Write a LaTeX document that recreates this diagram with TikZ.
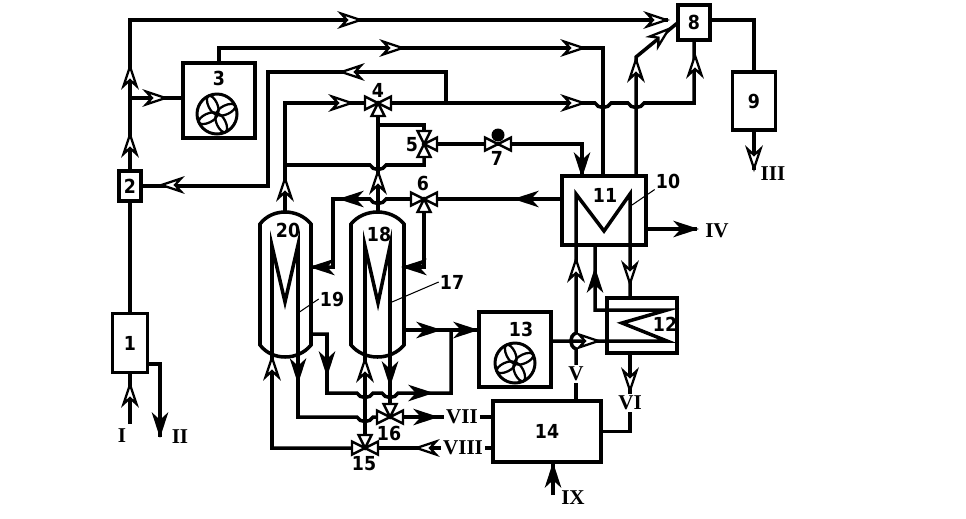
\documentclass[tikz,border=0pt]{standalone}
\usepackage{fontspec}
\newfontfamily\numfont{DejaVu Sans Condensed Bold}
\newfontfamily\romfont{Liberation Serif Bold}
\newcommand{\hopx}[2]{-- (#1-8,#2) .. controls (#1-5,#2+6) and (#1+5,#2+6) .. (#1+8,#2)}
\newcommand{\hopy}[2]{-- (#1,#2+8) .. controls (#1-7,#2+5) and (#1-7,#2-5) .. (#1,#2-8)}
\tikzset{
	pipe/.style={line width=2pt,line join=miter},
	leader/.style={line width=0.6pt},
	unit/.style={draw,line width=2pt,inner sep=0pt,outer sep=0pt,font=\numfont\fontsize{11}{12}\selectfont},
	tag/.style={inner sep=0.5pt,font=\numfont\fontsize{11}{12}\selectfont},
	rom/.style={inner sep=1pt,font=\romfont\fontsize{12}{13}\selectfont},
	openhead/.pic={\draw[line width=1.3pt,fill=white,line join=miter] (-1.5,0)--(-21,-6.5)--(-15,0)--(-21,6.5)--cycle;},
	solidhead/.pic={\draw[line width=1pt,fill=black,line join=miter] (-1,0)--(-21,-6.5)--(-15,0)--(-21,6.5)--cycle;},
	valve/.pic={\draw[line width=1.4pt,fill=white] (0,0)--(13,-6.5)--(13,6.5)--cycle (0,0)--(-13,-6.5)--(-13,6.5)--cycle (0,0)--(-6.5,13)--(6.5,13)--cycle;},
	fan/.pic={
		\draw[line width=1.7pt] (0,0) circle (20);
		\draw[line width=1.3pt,rotate=25] (10,0) ellipse (10 and 4.5);
		\draw[line width=1.3pt,rotate=115] (10,0) ellipse (10 and 4.5);
		\draw[line width=1.3pt,rotate=205] (10,0) ellipse (10 and 4.5);
		\draw[line width=1.3pt,rotate=295] (10,0) ellipse (10 and 4.5);
	}
}
\begin{document}
\begin{tikzpicture}[x=0.02cm,y=-0.02cm]
	\useasboundingbox (0,0) rectangle (966,518);
	\node[unit,minimum width=0.7cm,minimum height=1.18cm] (b1) at (130,343) {1};
	\node[unit,minimum width=0.44cm,minimum height=0.6cm] (b2) at (130,186) {2};
	\node[unit,minimum width=1.44cm,minimum height=1.5cm] (b3) at (219,100.5) {};
	\node[unit,minimum width=0.64cm,minimum height=0.7cm] (b8) at (694,22.5) {8};
	\node[unit,minimum width=0.86cm,minimum height=1.16cm] (b9) at (754,101) {9};
	\node[unit,minimum width=1.68cm,minimum height=1.38cm] (b10) at (604,210.5) {};
	\node[unit,minimum width=1.4cm,minimum height=1.1cm] (b12) at (642,325.5) {};
	\node[unit,minimum width=1.44cm,minimum height=1.5cm] (b13) at (515,349.5) {};
	\node[unit,minimum width=2.16cm,minimum height=1.22cm] (b14) at (547,431.5) {14};
	\node[tag] (l3) at (219,78) {3};
	\node[tag] (l4) at (378,90) {4};
	\node[tag] (l5) at (412,145) {5};
	\node[tag] (l6) at (423,183) {6};
	\node[tag] (l7) at (497,158) {7};
	\node[tag] (l10) at (668,181) {10};
	\node[tag] (l11) at (605,195) {11};
	\node[tag] (l12) at (665,324) {12};
	\node[tag] (l13) at (521,329) {13};
	\node[tag] (l15) at (364,464) {15};
	\node[tag] (l16) at (389,433) {16};
	\node[tag] (l17) at (452,282) {17};
	\node[tag] (l18) at (379,234) {18};
	\node[tag] (l19) at (332,299) {19};
	\node[tag] (l20) at (288,230) {20};
	\node[rom] (lI) at (122,436) {I};
	\node[rom] (lII) at (180,437) {II};
	\node[rom] (lIII) at (773,174) {III};
	\node[rom] (lIV) at (717,231) {IV};
	\node[rom] (lV) at (576,374) {V};
	\node[rom] (lVI) at (630,403) {VI};
	\node[rom] (lVII) at (462,417) {VII};
	\node[rom] (lVIII) at (463,448) {VIII};
	\node[rom] (lIX) at (573,498) {IX};
	\coordinate (v4) at (378,103);
	\coordinate (v5) at (424,144);
	\coordinate (v6) at (424,199);
	\coordinate (v7) at (498,144);
	\coordinate (v15) at (365,448);
	\coordinate (v16) at (390,417);
	\coordinate (t18) at (378,212);
	\coordinate (t20) at (285,212);
	\coordinate (r18) at (404,267);
	\coordinate (r20) at (311,267);
	\coordinate (o18) at (404,330);
	\coordinate (o20) at (311,334);
	\coordinate (cI) at (130,424);
	\coordinate (cII) at (160,437);
	\coordinate (cIII) at (754,170);
	\coordinate (cIV) at (697,229);
	\coordinate (cIX) at (553,495);
	\coordinate (c8) at (668,20);
	\coordinate (j1) at (130,98);
	\coordinate (j2) at (378,125);
	\coordinate (j3) at (285,165);
	\coordinate (j4) at (451,330);
	\coordinate (a1) at (603,48);
	\coordinate (a2) at (268,72);
	\coordinate (a3) at (446,103);
	\coordinate (a4) at (333,199);
	\coordinate (a5) at (582,144);
	\coordinate (a6) at (636,57);
	\coordinate (a7) at (630,194);
	\coordinate (a8) at (595,310);
	\coordinate (a9) at (667,341);
	\coordinate (a10) at (327,393);
	\coordinate (a11) at (272,246);
	\coordinate (a12) at (298,245);
	\coordinate (a13) at (160,364);
	\draw[pipe](260,224)..controls(272,208)and(298,208)..(311,224)--(311,345)..controls(298,361)and(272,361)..(260,345)--cycle;
	\draw[pipe](351,224)..controls(364,208)and(391,208)..(404,224)--(404,345)..controls(391,361)and(364,361)..(351,345)--cycle;
	\draw[pipe] (cI) -- (b1.south);
	\draw[pipe] (b1.north) -- (b2.south);
	\draw[pipe] (b1.east |- a13) -| (cII);
	\draw[pipe] (b2.north) |- (c8);
	\draw[pipe] (j1) -- (j1 -| b3.west);
	\draw[pipe] (b3.north) |- (a1) -- (a1 |- b10.north);
	\draw[pipe] (b2.east) -| (a2) -| (a3);
	\draw[pipe] (v4) \hopx{603}{103} \hopx{636}{103} -- (b8.south |- v4) -- (b8.south);
	\draw[pipe] (t20) |- (v4);
	\draw[pipe] (v4) -- (t18);
	\draw[pipe] (j2) -| (v5);
	\draw[pipe] (j3) \hopx{378}{165} -| (v5);
	\draw[pipe] (r20) -| (a4) \hopx{378}{199} -- (v6);
	\draw[pipe] (v6) |- (r18);
	\draw[pipe] (v6) -- (v6 -| b10.west);
	\draw[pipe] (v5) -- (a5) -- (a5 |- b10.north);
	\draw[pipe] (a6 |- b10.north) -- (a6) -- (b8.west);
	\draw[pipe] (lV |- b14.north) -- (lV.south);
	\draw[pipe] (lV.north) \hopy{576}{341} -- (576,194) -- (604,231) -- (a7) -- (a7 |- b12.north);
	\draw[pipe] (a7 |- b12.south) -- (lVI.north);
	\draw[pipe] (lVI.south) |- (b14.east);
	\draw[pipe] (a8 |- b10.south) -- (a8) -- (667,310) -- (622,323) -- (a9) -- (a9 -| b13.east);
	\draw[pipe] (o18) -- (o18 -| b13.west);
	\draw[pipe] (o20) -| (a10) \hopx{365}{393} \hopx{390}{393} -| (j4);
	\draw[pipe] (v15) -| (a11) -- (285,302) -- (a12) |- (348,417) \hopx{365}{417} -- (v16);
	\draw[pipe] (v15) -- (365,246) -- (378,303) -- (390,246) -- (v16);
	\draw[pipe] (v16) -- (lVII.west);
	\draw[pipe] (lVII.east) -- (lVII.east -| b14.west);
	\draw[pipe] (v15) -- (lVIII.west);
	\draw[pipe] (lVIII.east) -- (lVIII.east -| b14.west);
	\draw[pipe] (cIX) -- (cIX |- b14.south);
	\draw[pipe] (cIV -| b10.east) -- (cIV);
	\draw[pipe] (c8 -| b8.east) -| (b9.north);
	\draw[pipe] (b9.south) -- (cIII);
	\draw[leader] (298,313) -- (l19.west);
	\draw[leader] (392,302) -- (l17.west);
	\draw[leader] (632,205) -- (l10.south west);
	\pic at (v4) {valve};
	\pic[rotate=90] at (v5) {valve};
	\pic at (v6) {valve};
	\pic[rotate=180] at (v15) {valve};
	\pic[rotate=180] at (v16) {valve};
	\draw[line width=1.4pt,fill=white] (v7)--++(-13,-6.5)--++(0,13)--cycle (v7)--++(13,-6.5)--++(0,13)--cycle;
	\fill ([shift={(0,-9)}]v7) circle (6.5);
	\pic at (217,114) {fan};
	\pic at (515,363) {fan};
	\pic[rotate=90] at (130,65) {openhead};
	\pic[rotate=90] at (130,133) {openhead};
	\pic at (167,98) {openhead};
	\pic at (362,20) {openhead};
	\pic at (668,20) {openhead};
	\pic at (404,48) {openhead};
	\pic at (585,48) {openhead};
	\pic[rotate=180] at (340,72) {openhead};
	\pic[rotate=180] at (160,185) {openhead};
	\pic at (353,103) {openhead};
	\pic[rotate=90] at (285,177) {openhead};
	\pic[rotate=90] at (378,170) {openhead};
	\pic at (585,103) {openhead};
	\pic[rotate=90] at (636,58) {openhead};
	\pic[rotate=90] at (695,54) {openhead};
	\pic[rotate=40] at (670,28) {openhead};
	\pic[rotate=-90] at (754,170) {openhead};
	\pic[rotate=-90] at (630,285) {openhead};
	\pic[rotate=90] at (576,258) {openhead};
	\pic at (600,341) {openhead};
	\pic[rotate=-90] at (630,392) {openhead};
	\pic[rotate=90] at (272,356) {openhead};
	\pic[rotate=90] at (365,358) {openhead};
	\pic[rotate=180] at (415,448) {openhead};
	\pic[rotate=90] at (130,383) {openhead};
	\pic[rotate=-90] at (160,436) {solidhead};
	\pic[rotate=180] at (340,199) {solidhead};
	\pic[rotate=180] at (403,267) {solidhead};
	\pic[rotate=180] at (311,267) {solidhead};
	\pic[rotate=180] at (515,199) {solidhead};
	\pic[rotate=-90] at (582,176) {solidhead};
	\pic at (697,229) {solidhead};
	\pic[rotate=90] at (595,269) {solidhead};
	\pic[rotate=-90] at (298,382) {solidhead};
	\pic[rotate=-90] at (390,385) {solidhead};
	\pic[rotate=-90] at (327,375) {solidhead};
	\pic at (432,393) {solidhead};
	\pic at (440,330) {solidhead};
	\pic at (477,330) {solidhead};
	\pic at (437,417) {solidhead};
	\pic[rotate=90] at (553,464) {solidhead};
\end{tikzpicture}
\end{document}
